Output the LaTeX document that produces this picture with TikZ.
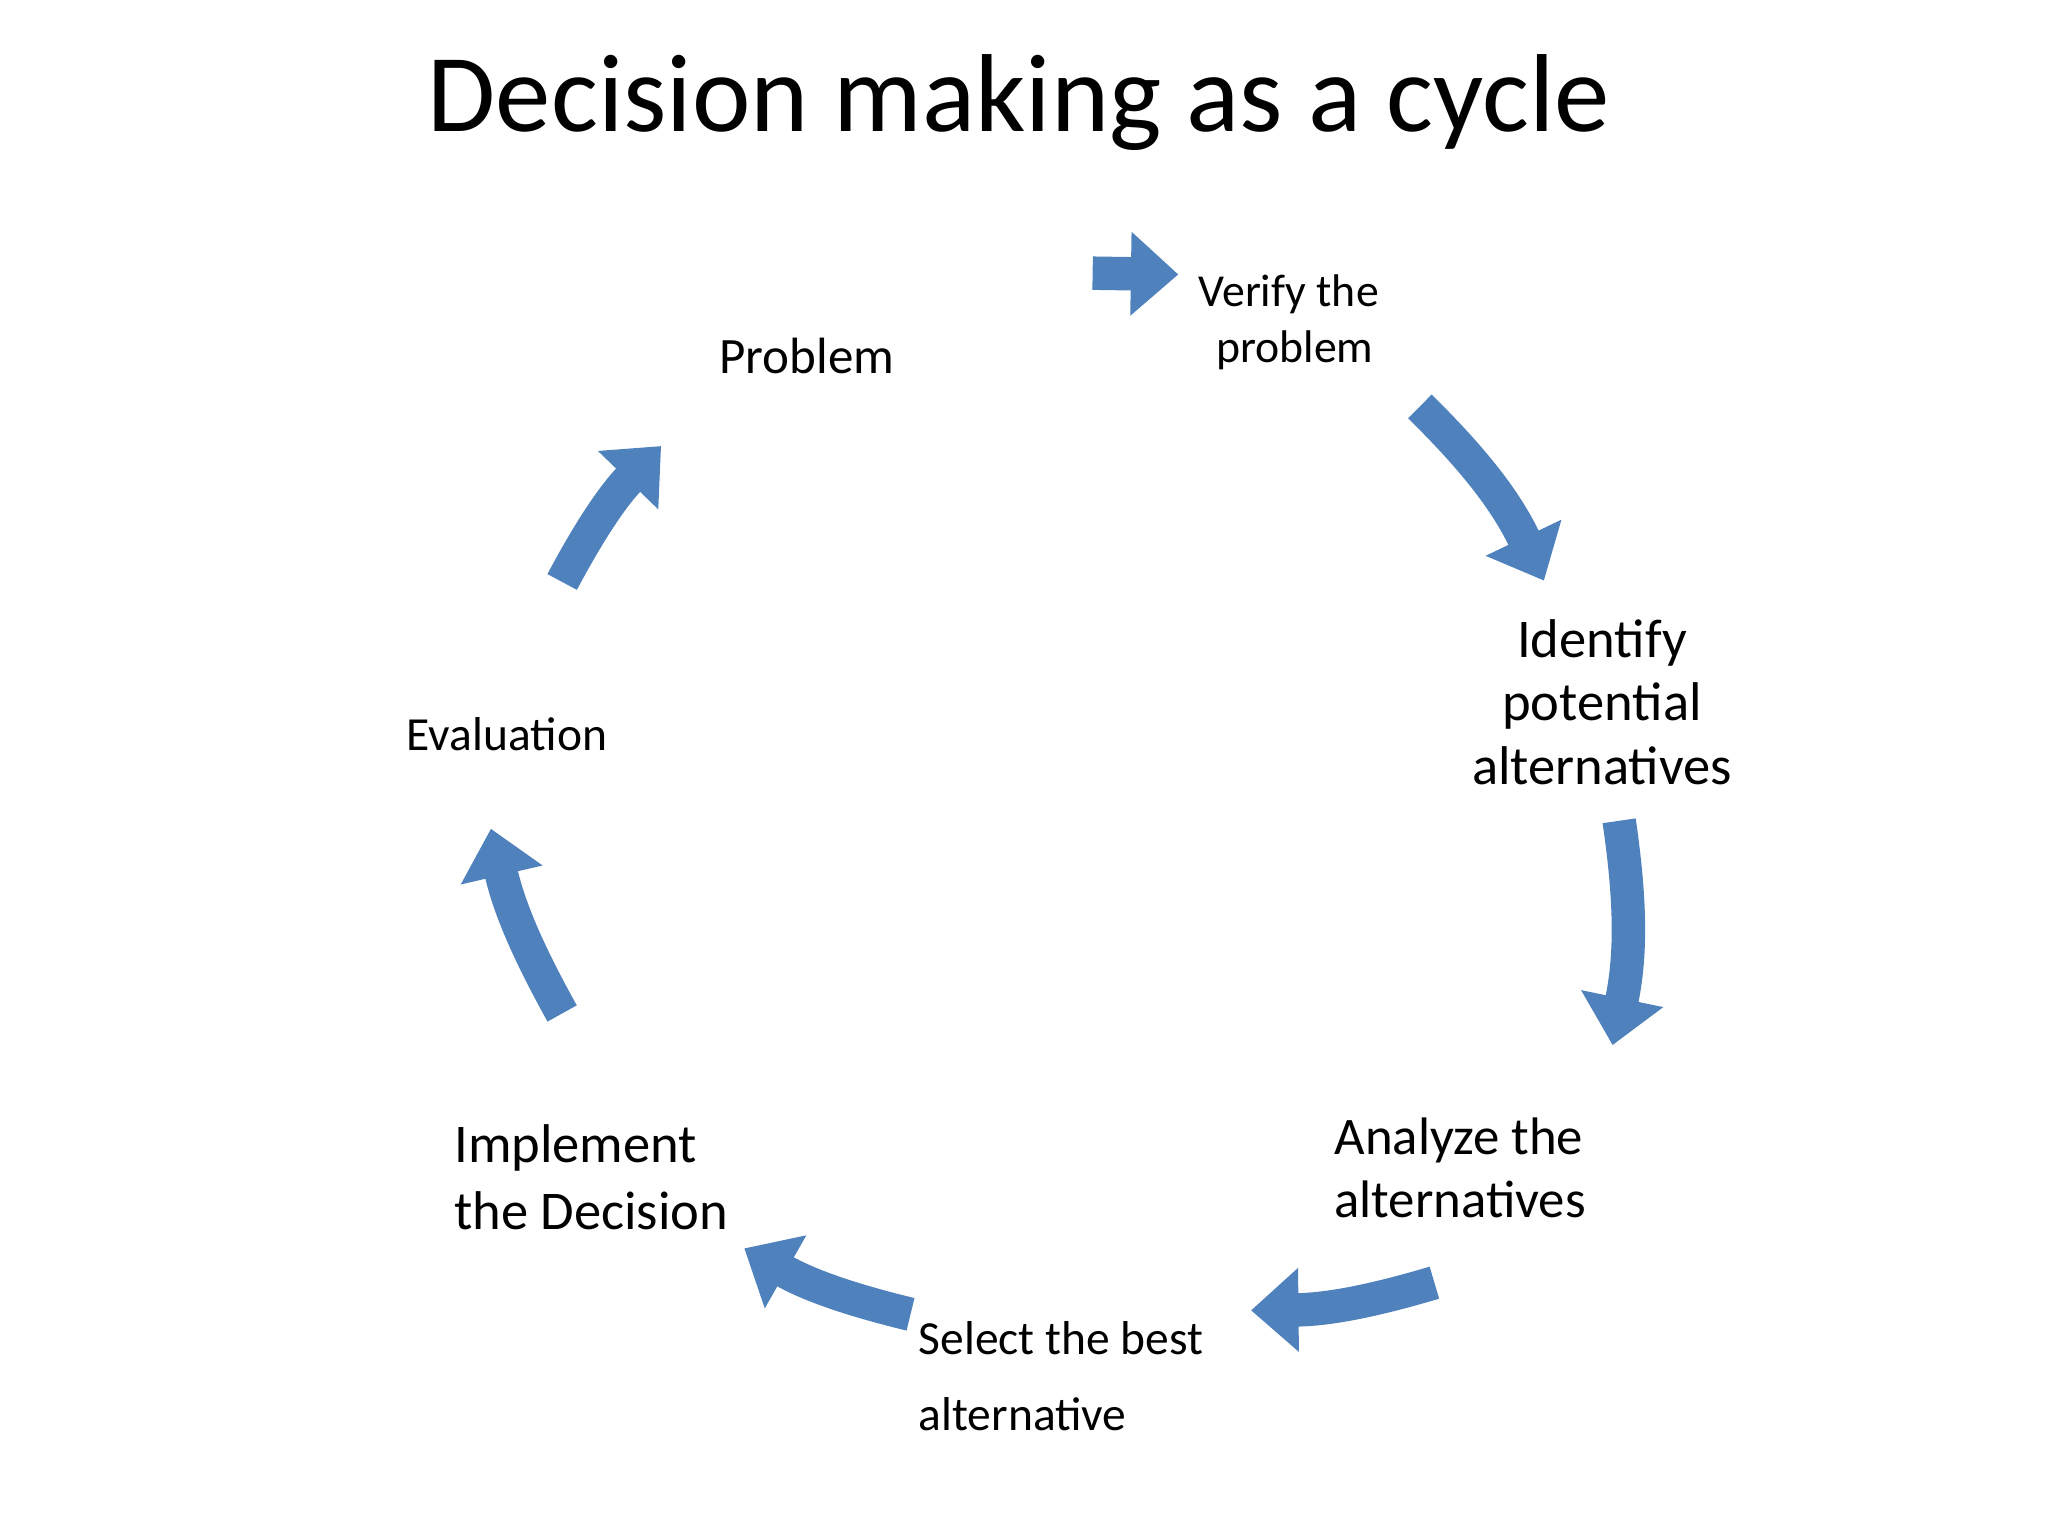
\documentclass[tikz,border=0pt]{standalone}
\usepackage{fontspec}
\setmainfont{Carlito}
\usetikzlibrary{arrows.meta}
\definecolor{blk}{HTML}{4F81BD}
\begin{document}
\begin{tikzpicture}[x=0.75pt,y=-0.75pt,
  cyc/.style={draw=blk,line width=19pt,-{Triangle[width=46pt,length=27pt]}},
  lbl/.style={align=left,inner sep=0pt,anchor=west}]
\useasboundingbox (0,0) rectangle (1552,1164);
\node[font=\fontsize{63pt}{66pt}\selectfont] (title) at (772,78) {Decision making as a cycle};
\node[lbl,font=\fontsize{29pt}{32pt}\selectfont] (p) at (545,270) {Problem};
\node[lbl,font=\fontsize{26pt}{33pt}\selectfont] (v) at (908,244) {Verify the\\[-1pt]\hspace*{10pt}problem};
\node[align=center,inner sep=0pt,font=\fontsize{31pt}{36pt}\selectfont] (i) at (1214,532) {Identify\\potential\\alternatives};
\node[lbl,font=\fontsize{30pt}{36pt}\selectfont] (a) at (1011,885) {Analyze the\\alternatives};
\node[lbl,font=\fontsize{27pt}{43pt}\selectfont] (s) at (696,1043) {Select the best\\alternative};
\node[lbl,font=\fontsize{31pt}{38pt}\selectfont] (im) at (344,892) {Implement\\the Decision};
\node[lbl,font=\fontsize{27pt}{32pt}\selectfont] (e) at (308,556) {Evaluation};
\coordinate (a1s) at (828,207); \coordinate (a1e) at (893,208);
\coordinate (a2s) at (1076,308); \coordinate (a2e) at (1170,440);
\coordinate (a3s) at (1227,622); \coordinate (a3e) at (1222,792);
\coordinate (a4s) at (1087,972); \coordinate (a4e) at (948,993);
\coordinate (a5s) at (690,996); \coordinate (a5e) at (564,946);
\coordinate (a6s) at (426,768); \coordinate (a6e) at (372,628);
\coordinate (a7s) at (426,441); \coordinate (a7e) at (501,338);
\draw[cyc] (a1s) -- (a1e);
\draw[cyc] (a2s) to[bend left=10] (a2e);
\draw[cyc] (a3s) to[bend left=10] (a3e);
\draw[cyc] (a4s) to[bend left=8] (a4e);
\draw[cyc] (a5s) to[bend left=8] (a5e);
\draw[cyc] (a6s) to[bend left=8] (a6e);
\draw[cyc] (a7s) to[bend left=8] (a7e);
\end{tikzpicture}
\end{document}
